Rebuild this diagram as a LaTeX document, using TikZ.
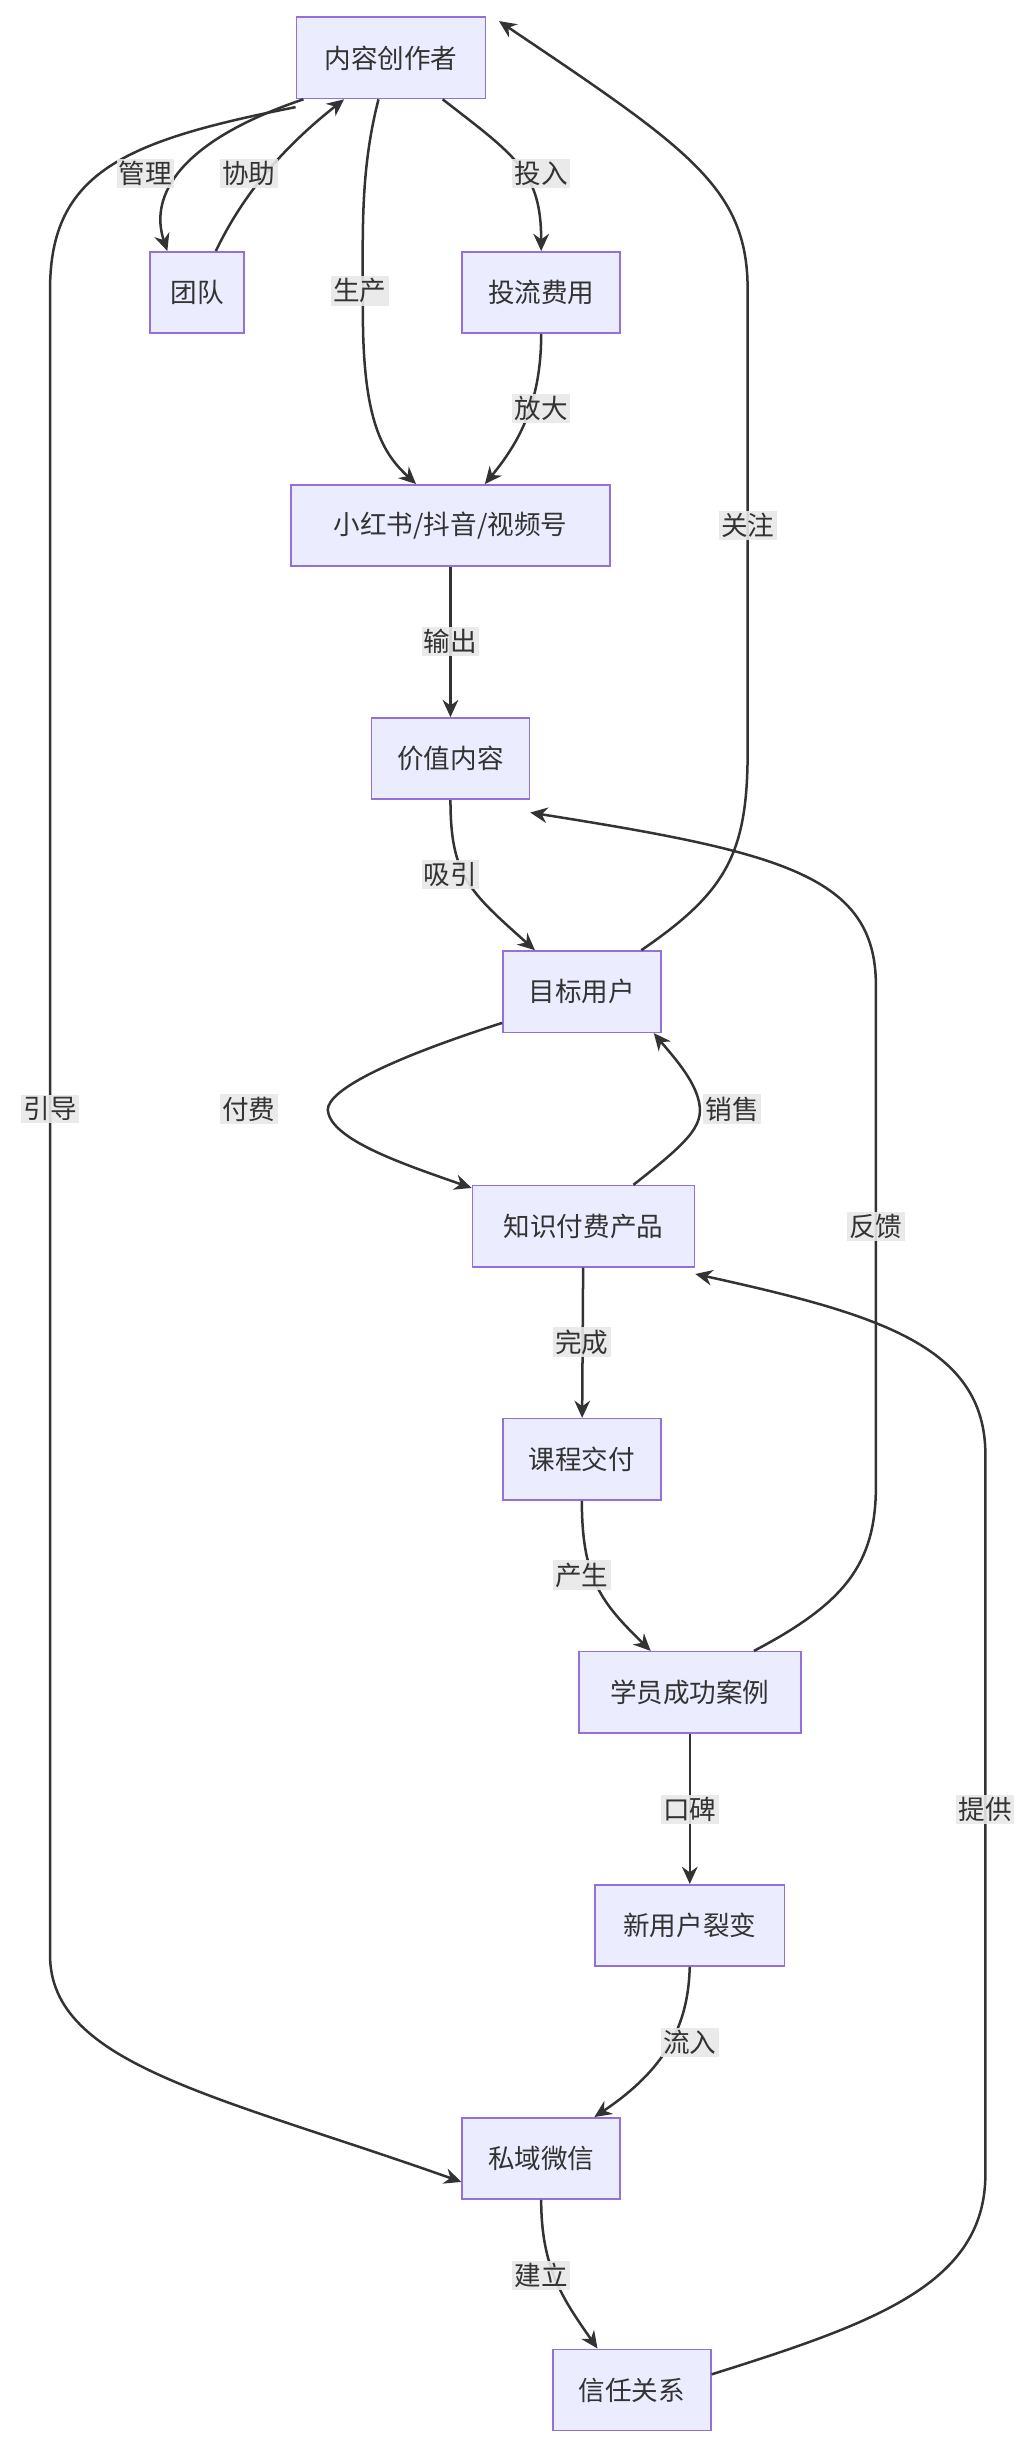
\documentclass[tikz,border=0pt]{standalone}
\usepackage{fontspec}
\setmainfont{Noto Sans CJK SC}
\usetikzlibrary{arrows.meta, positioning}
\definecolor{boxfill}{HTML}{ECECFF}
\definecolor{boxline}{HTML}{9370DB}
\definecolor{edgecol}{HTML}{333333}
\definecolor{lblfill}{HTML}{E8E8E8}

\begin{document}
\begin{tikzpicture}[
    x=1pt, y=-1pt,
    box/.style={rectangle, draw=boxline, fill=boxfill, line width=1pt, minimum height=52pt, inner xsep=8pt, font=\fontsize{17}{20}\selectfont, text=edgecol},
    lbl/.style={fill=lblfill, fill opacity=0.9, text opacity=1, inner sep=1.5pt, font=\fontsize{17}{20}\selectfont, text=edgecol},
    arrow/.style={line width=1.6pt, draw=edgecol, -{Stealth[length=11pt, width=10pt]}}
]
\useasboundingbox (0,0) rectangle (660,1560);

% Nodes
\node[box, minimum width=121pt] (creator) at (250,37) {内容创作者};
\node[box, minimum width=60pt] (team) at (126,187) {团队};
\node[box, minimum width=101pt] (invest) at (346,187) {投流费用};
\node[box, minimum width=204pt] (xhs) at (288,336) {小红书/抖音/视频号};
\node[box, minimum width=101pt] (value) at (288,485) {价值内容};
\node[box, minimum width=101pt] (target) at (372,634) {目标用户};
\node[box, minimum width=142pt] (product) at (373,784) {知识付费产品};
\node[box, minimum width=101pt] (course) at (372,933) {课程交付};
\node[box, minimum width=142pt] (case) at (441,1082) {学员成功案例};
\node[box, minimum width=121pt] (newuser) at (441,1231) {新用户裂变};
\node[box, minimum width=101pt] (wechat) at (346,1380) {私域微信};
\node[box, minimum width=101pt] (trust) at (404,1528) {信任关系};

% Arrows
\draw[arrow] ([xshift=5]creator.south west) .. controls (115,90) and (95,125) .. ([xshift=-19]team.north);
\draw[arrow] ([xshift=12]team.north) .. controls (155,125) and (180,95) .. ([xshift=-30]creator.south);
\draw[arrow] ([xshift=-8]creator.south) .. controls (230,110) and (232,150) .. (232,200) .. controls (232,270) and (245,290) .. ([xshift=-22]xhs.north);
\draw[arrow] ([xshift=33]creator.south) .. controls (330,100) and (346,110) .. (invest.north);
\draw[arrow] (invest.south) .. controls (346,260) and (330,285) .. ([xshift=22]xhs.north);
\draw[arrow] (xhs) -- (value);
\draw[arrow] (value.south) .. controls (288,560) and (300,570) .. ([xshift=-30]target.north);
\draw[arrow] ([xshift=38]target.north) .. controls (465,570) and (478,545) .. (478,480) -- (478,185) .. controls (478,120) and (440,95) .. ([xshift=8,yshift=-3]creator.north east);
\draw[arrow] ([yshift=-20]target.west) .. controls (240,680) and (205,700) .. (210,712) .. controls (215,730) and (260,745) .. ([yshift=-2]product.north west);
\draw[arrow] ([xshift=32]product.north) .. controls (440,730) and (450,720) .. (447,705) .. controls (444,690) and (430,675) .. ([xshift=46]target.south);
\draw[arrow] (product) -- (course);
\draw[arrow] (course.south) .. controls (372,1010) and (385,1025) .. ([xshift=-25]case.north);
\draw[arrow] ([xshift=41]case.north) .. controls (540,1025) and (560,1000) .. (560,950) -- (560,630) .. controls (560,560) and (500,545) .. ([yshift=-8]value.south east);
\draw[arrow] (case) -- (newuser);
\draw[arrow] (newuser.south) .. controls (440,1290) and (430,1320) .. ([xshift=34]wechat.north);
\draw[arrow] (wechat.south) .. controls (346,1450) and (360,1470) .. ([xshift=-22]trust.north);
\draw[arrow] ([yshift=10]trust.east) .. controls (560,1485) and (630,1460) .. (630,1390) -- (630,930) .. controls (630,860) and (560,840) .. ([yshift=-4]product.south east);
\draw[arrow] ([yshift=-5]creator.south west) .. controls (80,90) and (32,110) .. (32,185) -- (32,1250) .. controls (32,1320) and (140,1340) .. ([yshift=-15]wechat.west);

% Labels
\node[lbl] (l1) at (93,111) {管理};
\node[lbl] (l2) at (159,111) {协助};
\node[lbl] (l3) at (230,186) {生产};
\node[lbl] (l4) at (346,111) {投入};
\node[lbl] (l5) at (346,261) {放大};
\node[lbl] (l6) at (288,410) {输出};
\node[lbl] (l7) at (288,559) {吸引};
\node[lbl] (l8) at (478,336) {关注};
\node[lbl] (l9) at (159,709) {付费};
\node[lbl] (l10) at (468,709) {销售};
\node[lbl] (l11) at (372,858) {完成};
\node[lbl] (l12) at (372,1007) {产生};
\node[lbl] (l13) at (560,784) {反馈};
\node[lbl] (l14) at (441,1157) {口碑};
\node[lbl] (l15) at (441,1306) {流入};
\node[lbl] (l16) at (346,1455) {建立};
\node[lbl] (l17) at (630,1157) {提供};
\node[lbl] (l18) at (32,709) {引导};

\end{tikzpicture}
\end{document}
